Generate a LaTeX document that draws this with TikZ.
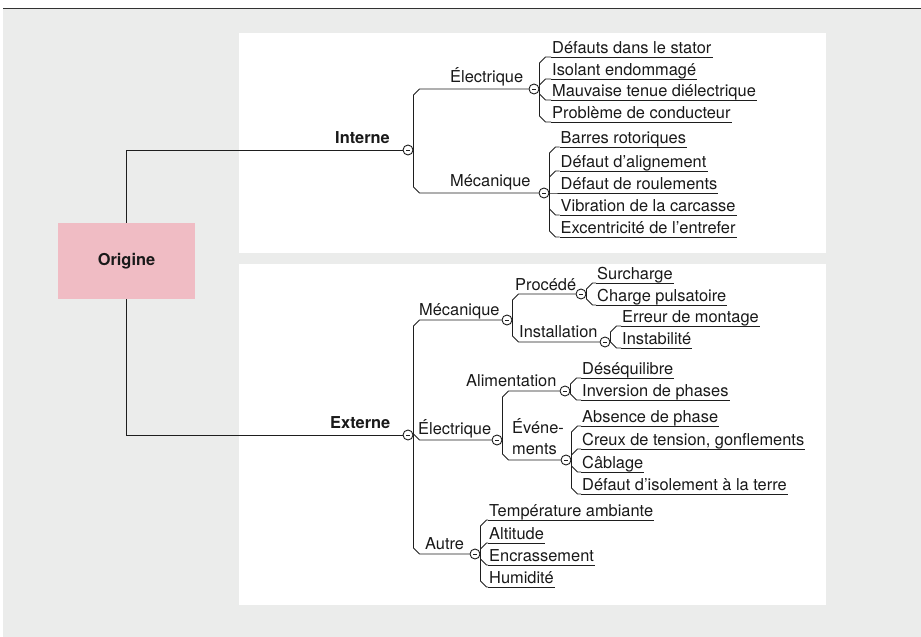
\documentclass[tikz,border=0pt]{standalone}
\usepackage{fontspec}
\setmainfont{TeX Gyre Heros}
\usetikzlibrary{calc}
\begin{document}
\begin{tikzpicture}[x=1pt,y=-1pt]
\newcommand{\chamf}{6pt}
\newcommand{\forkline}[2]{\draw[branch] let \p1=(#1.east), \p2=(#2), \n1={sign(\y2-\y1)*6} in (\p1) -- (\x1,\y2-\n1) -- (\x1+\chamf,\y2) -- (\p2);}
\newcommand{\leafline}[2]{\forkline{#1}{#2.south west}\draw[branch] (#2.south west) edge (#2.south east);}
\definecolor{panelgray}{RGB}{235,236,235}
\definecolor{originpink}{RGB}{240,188,196}
\definecolor{linecol}{RGB}{30,30,30}
\definecolor{rulecol}{RGB}{50,50,50}
\definecolor{textcol}{RGB}{25,25,25}
\tikzstyle{branch}=[draw=linecol,line width=0.9pt]
\tikzstyle{knob}=[draw=linecol,fill=white,circle,minimum size=10pt,inner sep=0pt,line width=0.9pt,path picture={\draw[linecol,line width=0.9pt] ([xshift=-2pt]path picture bounding box.center) -- ([xshift=2pt]path picture bounding box.center);}]
\tikzstyle{topic}=[inner sep=0pt,text=textcol,font=\fontsize{16.4}{21}\selectfont]
\tikzstyle{major}=[topic,font=\fontsize{16.4}{21}\selectfont\bfseries]
\tikzstyle{leaf}=[topic,inner xsep=1pt,inner ysep=0pt,text depth=3.6pt,anchor=south west]
\useasboundingbox (0,0) rectangle (921,637);
% background and panels
\fill[panelgray] (3,9) rectangle (921,637);
\draw[rulecol,line width=1.6pt] (3,8.5) -- (921,8.5);
\fill[white] (239,33) rectangle (826,253);
\fill[white] (239,264) rectangle (826,605);
\node[major,fill=originpink,minimum width=137pt,minimum height=76pt] (orig) at (126.5,261) {Origine};
% knobs
\node[knob] (cInt) at (408,150) {};
\node[knob] (cExt) at (408,435) {};
\node[knob] (cIE) at (534,89) {};
\node[knob] (cIM) at (544,193) {};
\node[knob] (cEM) at (507,320) {};
\node[knob] (cEE) at (497,440) {};
\node[knob] (cEA) at (475,554) {};
\node[knob] (cPro) at (581,294) {};
\node[knob] (cIns) at (605,342) {};
\node[knob] (cAli) at (565,391) {};
\node[knob] (cEve) at (566,460) {};
% topics
\node[major,anchor=base west] (tInt) at (335,143) {Interne};
\node[major,anchor=base west] (tExt) at (330,428) {Externe};
\node[topic,anchor=base west] (tIE) at (450,82) {Électrique};
\node[topic,anchor=base west] (tIM) at (450,186) {Mécanique};
\node[topic,anchor=base west] (tEM) at (419,315) {Mécanique};
\node[topic,anchor=base west] (tEE) at (418,434) {Électrique};
\node[topic,anchor=base west] (tEA) at (425,549) {Autre};
\node[topic,anchor=base west] (tPro) at (515,290) {Procédé};
\node[topic,anchor=base west] (tIns) at (519,337) {Installation};
\node[topic,anchor=base west] (tAli) at (466,386) {Alimentation};
\node[topic,anchor=south west,align=left] (tEve) at (512,455) {Événe-\\ments};
% leaves
\node[leaf] (ie1) at (551,57) {Défauts dans le stator};
\node[leaf] (ie2) at (551,79) {Isolant endommagé};
\node[leaf] (ie3) at (551,100) {Mauvaise tenue diélectrique};
\node[leaf] (ie4) at (551,122) {Problème de conducteur};
\node[leaf] (im1) at (559.5,147) {Barres rotoriques};
\node[leaf] (im2) at (559.5,171) {Défaut d’alignement};
\node[leaf] (im3) at (559.5,193) {Défaut de roulements};
\node[leaf] (im4) at (559.5,215) {Vibration de la carcasse};
\node[leaf] (im5) at (559.5,237) {Excentricité de l’entrefer};
\node[leaf] (pr1) at (596,283) {Surcharge};
\node[leaf] (pr2) at (596,305) {Charge pulsatoire};
\node[leaf] (in1) at (621,326) {Erreur de montage};
\node[leaf] (in2) at (621,348) {Instabilité};
\node[leaf] (al1) at (581,378) {Déséquilibre};
\node[leaf] (al2) at (581,400) {Inversion de phases};
\node[leaf] (ev1) at (581,426) {Absence de phase};
\node[leaf] (ev2) at (581,449) {Creux de tension, gonflements};
\node[leaf] (ev3) at (581,472) {Câblage};
\node[leaf] (ev4) at (581,494) {Défaut d’isolement à la terre};
\node[leaf] (au1) at (488,520) {Température ambiante};
\node[leaf] (au2) at (488,543) {Altitude};
\node[leaf] (au3) at (488,565) {Encrassement};
\node[leaf] (au4) at (488,587) {Humidité};
% connectors
\draw[branch] (orig.north) |- (cInt.west);
\draw[branch] (orig.south) |- (cExt.west);
\forkline{cInt}{cIE.west}
\forkline{cInt}{cIM.west}
\forkline{cExt}{cEM.west}
\forkline{cExt}{cEE.west}
\forkline{cExt}{cEA.west}
\forkline{cEM}{cPro.west}
\forkline{cEM}{cIns.west}
\forkline{cEE}{cAli.west}
\forkline{cEE}{cEve.west}
\leafline{cIE}{ie1}
\leafline{cIE}{ie2}
\leafline{cIE}{ie3}
\leafline{cIE}{ie4}
\leafline{cIM}{im1}
\leafline{cIM}{im2}
\leafline{cIM}{im3}
\leafline{cIM}{im4}
\leafline{cIM}{im5}
\leafline{cPro}{pr1}
\leafline{cPro}{pr2}
\leafline{cIns}{in1}
\leafline{cIns}{in2}
\leafline{cAli}{al1}
\leafline{cAli}{al2}
\leafline{cEve}{ev1}
\leafline{cEve}{ev2}
\leafline{cEve}{ev3}
\leafline{cEve}{ev4}
\leafline{cEA}{au1}
\leafline{cEA}{au2}
\leafline{cEA}{au3}
\leafline{cEA}{au4}
\end{tikzpicture}
\end{document}
